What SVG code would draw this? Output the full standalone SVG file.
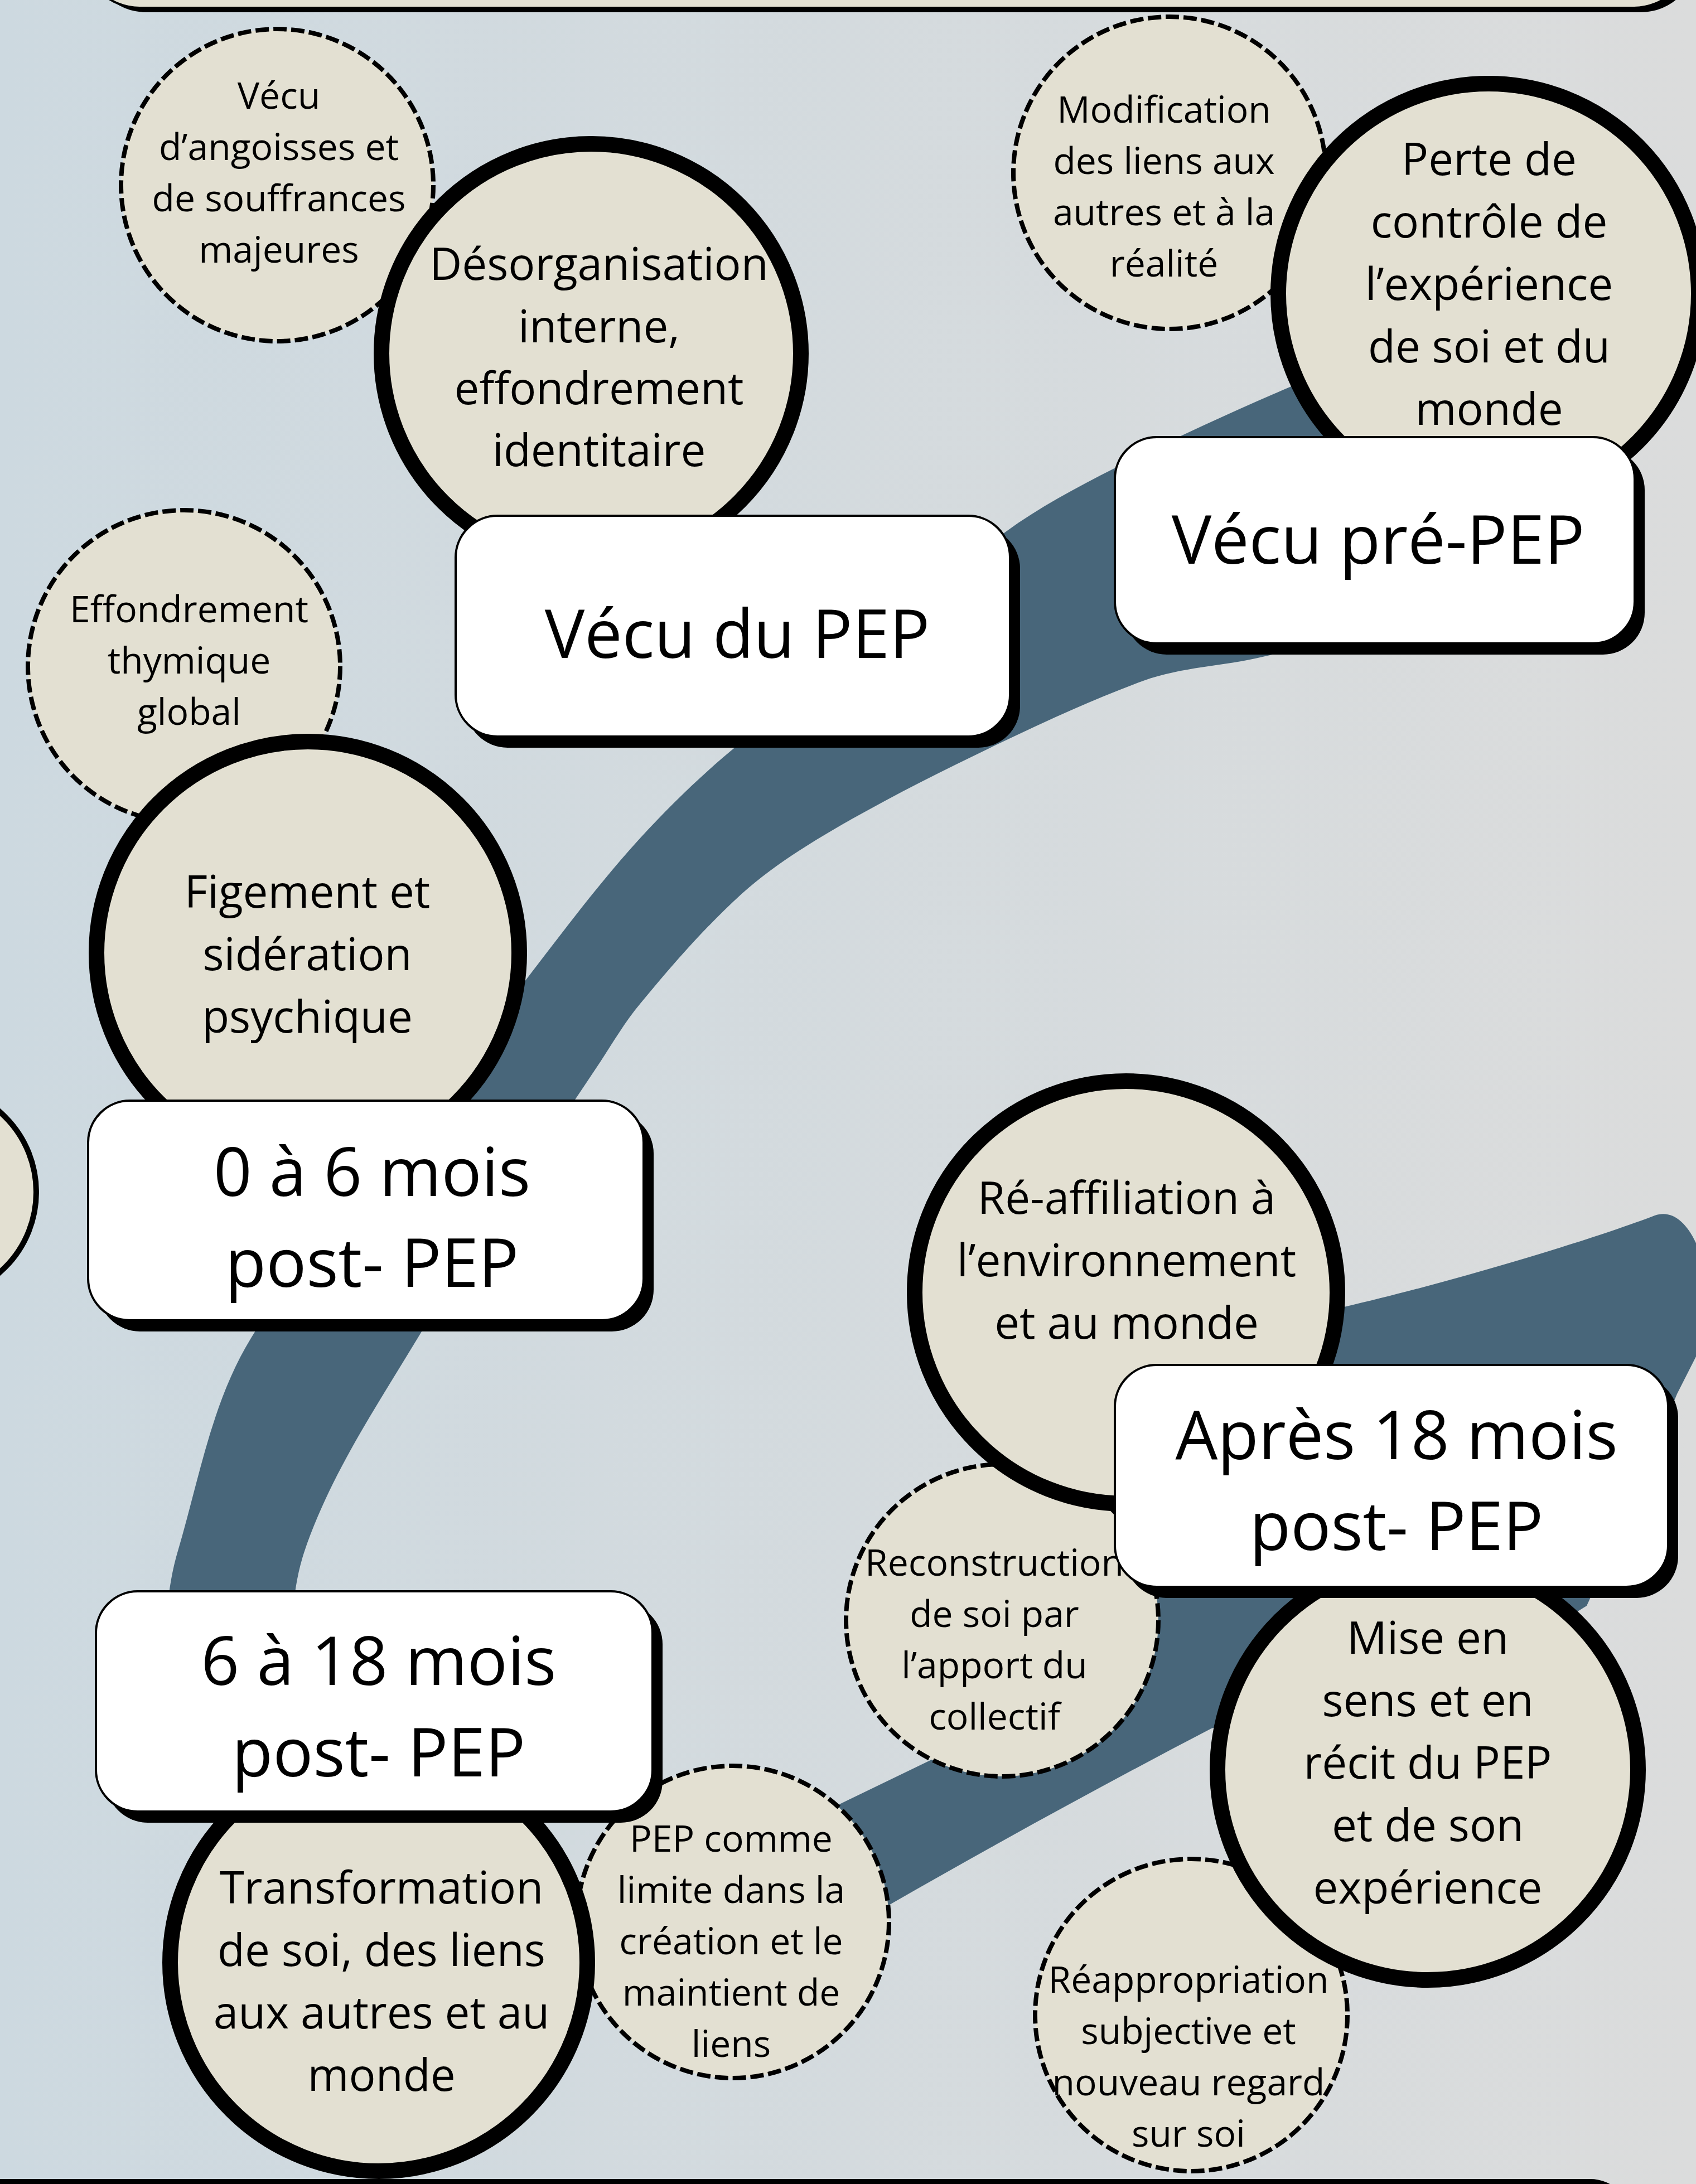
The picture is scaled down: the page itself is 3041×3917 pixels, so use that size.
<svg xmlns="http://www.w3.org/2000/svg" width="3041" height="3917" viewBox="0 0 3041 3917">
<defs>
<linearGradient id="bg" x1="0" y1="0" x2="1" y2="0">
<stop offset="0" stop-color="#cdd9e0"/>
<stop offset="1" stop-color="#dbdcdc"/>
</linearGradient>
<style>
.band{fill:#48667a}
.thick{fill:#e3e0d2;stroke:#000;stroke-width:28}
.dash{fill:#e3e0d2;stroke:#000;stroke-width:8;stroke-dasharray:24 8}
.box{fill:#fff;stroke:#000;stroke-width:4}
.shadow{fill:#000}
text{font-family:'Open Sans','Liberation Sans',sans-serif;fill:#000;text-anchor:middle}
.t66{font-size:66px}
.t80{font-size:80px}
.t120{font-size:120px}
</style>
</defs>
<rect x="0" y="0" width="3041" height="3917" fill="url(#bg)"/>

<g id="frame-top">
<rect x="162" y="-392" width="2880" height="414" rx="100" class="shadow"/>
<rect x="150" y="-400" width="2880" height="414" rx="100" fill="#e3e0d2" stroke="#000" stroke-width="4"/>
</g>
<g id="frame-bottom">
<rect x="-100" y="3908" width="3026" height="400" rx="75" class="shadow"/>
</g>

<g id="connectors">
<path class="band" d="M 2600 570 L 2313 694 C 2206 740, 2101 788, 1998 840 C 1931 874, 1863 910, 1803 954 C 1639 1075, 1480 1206, 1322 1337 C 1260 1388, 1202 1444, 1148 1503 C 1074 1584, 1008 1673, 941 1760 C 777 1973, 590 2171, 450 2400 C 379 2516, 357 2654, 318 2785 C 307 2822, 302 2861, 298 2900 L 290 3050 L 520 3050 L 525 2900 C 527 2861, 533 2822, 545 2785 C 591 2648, 672 2527, 747 2403 C 850 2232, 967 2070, 1076 1905 C 1099 1870, 1121 1832, 1148 1800 C 1205 1731, 1264 1663, 1330 1603 C 1380 1558, 1438 1521, 1496 1487 C 1590 1432, 1688 1383, 1786 1336 C 1872 1295, 1960 1254, 2050 1221 C 2119 1196, 2193 1195, 2264 1178 L 2600 1100 Z"/>
<path class="band" d="M 1350 3300 L 1505 3236 L 1662 3160 C 1780 3105, 1980 2950, 2090 2830 L 2250 2560 L 2380 2440 L 2410 2344 C 2600 2300, 2850 2225, 2967 2180 C 3010 2165, 3045 2215, 3060 2290 C 3072 2360, 3060 2410, 3041 2433 L 3007 2500 L 2900 2760 L 2845 2880 L 2780 2920 L 2172 3100 C 1980 3200, 1780 3310, 1597 3415 L 1450 3490 Z"/>
</g>

<g id="n-left-partial">
<circle cx="-126" cy="2138" r="191" fill="#e3e0d2" stroke="#000" stroke-width="10"/>
</g>

<g id="n-vecu-angoisses">
<circle cx="497" cy="332" r="280" class="dash"/>
<text class="t66"><tspan x="500" y="195">Vécu</tspan><tspan x="500" y="287">d’angoisses et</tspan><tspan x="500" y="379">de souffrances</tspan><tspan x="500" y="471">majeures</tspan></text>
</g>
<g id="n-modification">
<circle cx="2097" cy="310" r="280" class="dash"/>
<text class="t66"><tspan x="2087" y="220">Modification</tspan><tspan x="2087" y="312">des liens aux</tspan><tspan x="2087" y="404">autres et à la</tspan><tspan x="2087" y="496">réalité</tspan></text>
</g>
<g id="n-effondrement">
<circle cx="330" cy="1195" r="280" class="dash"/>
<text class="t66"><tspan x="339" y="1116">Effondrement</tspan><tspan x="339" y="1208">thymique</tspan><tspan x="339" y="1300">global</tspan></text>
</g>
<g id="n-pep-comme">
<circle cx="1314" cy="3447" r="280" class="dash"/>
<text class="t66"><tspan x="1311" y="3321">PEP comme</tspan><tspan x="1311" y="3413">limite dans la</tspan><tspan x="1311" y="3505">création et le</tspan><tspan x="1311" y="3597">maintient de</tspan><tspan x="1311" y="3689">liens</tspan></text>
</g>
<g id="n-reconstruction">
<circle cx="1797" cy="2906" r="280" class="dash"/>
<text class="t66"><tspan x="1783" y="2826">Reconstruction</tspan><tspan x="1783" y="2918">de soi par</tspan><tspan x="1783" y="3010">l’apport du</tspan><tspan x="1783" y="3102">collectif</tspan></text>
</g>
<g id="n-reappropriation">
<circle cx="2136" cy="3614" r="280" class="dash"/>
<text class="t66"><tspan x="2131" y="3574">Réappropriation</tspan><tspan x="2131" y="3666">subjective et</tspan><tspan x="2131" y="3758">nouveau regard</tspan><tspan x="2131" y="3850">sur soi</tspan></text>
</g>

<g id="n-desorganisation">
<circle cx="1060" cy="634" r="376" class="thick"/>
<text class="t80"><tspan x="1074" y="502">Désorganisation</tspan><tspan x="1074" y="614">interne,</tspan><tspan x="1074" y="725">effondrement</tspan><tspan x="1074" y="836">identitaire</tspan></text>
</g>
<g id="n-perte">
<circle cx="2669" cy="527" r="377" class="thick"/>
<text class="t80"><tspan x="2670" y="314">Perte de</tspan><tspan x="2670" y="426">contrôle de</tspan><tspan x="2670" y="538">l’expérience</tspan><tspan x="2670" y="650">de soi et du</tspan><tspan x="2670" y="762">monde</tspan></text>
</g>
<g id="n-figement">
<circle cx="552" cy="1709" r="379" class="thick"/>
<text class="t80"><tspan x="551" y="1628">Figement et</tspan><tspan x="551" y="1740">sidération</tspan><tspan x="551" y="1852">psychique</tspan></text>
</g>
<g id="n-reaffiliation">
<circle cx="2019" cy="2318" r="379" class="thick"/>
<text class="t80"><tspan x="2020" y="2177">Ré-affiliation à</tspan><tspan x="2020" y="2289">l’environnement</tspan><tspan x="2020" y="2401">et au monde</tspan></text>
</g>
<g id="n-mise-en-sens">
<circle cx="2560" cy="3174" r="377" class="thick"/>
<text class="t80"><tspan x="2560" y="2966">Mise en</tspan><tspan x="2560" y="3078">sens et en</tspan><tspan x="2560" y="3190">récit du PEP</tspan><tspan x="2560" y="3302">et de son</tspan><tspan x="2560" y="3414">expérience</tspan></text>
</g>
<g id="n-transformation">
<circle cx="679" cy="3520" r="374" class="thick"/>
<text class="t80"><tspan x="684" y="3414">Transformation</tspan><tspan x="684" y="3526">de soi, des liens</tspan><tspan x="684" y="3638">aux autres et au</tspan><tspan x="684" y="3750">monde</tspan></text>
</g>

<g id="b-vecu-pre">
<rect x="2017" y="804" width="932" height="370" rx="75" class="shadow"/>
<rect x="1999" y="784" width="932" height="370" rx="75" class="box"/>
<text class="t120" x="2471" y="1011">Vécu pré-PEP</text>
</g>
<g id="b-vecu-du">
<rect x="835" y="945" width="994" height="396" rx="75" class="shadow"/>
<rect x="817" y="925" width="994" height="396" rx="75" class="box"/>
<text class="t120" x="1322" y="1180">Vécu du PEP</text>
</g>
<g id="b-0-6">
<rect x="176" y="1994" width="996" height="394" rx="75" class="shadow"/>
<rect x="158" y="1974" width="996" height="394" rx="75" class="box"/>
<text class="t120"><tspan x="667" y="2145">0 à 6 mois</tspan><tspan x="667" y="2308">post- PEP</tspan></text>
</g>
<g id="b-6-18">
<rect x="190" y="2874" width="998" height="395" rx="75" class="shadow"/>
<rect x="172" y="2854" width="998" height="395" rx="75" class="box"/>
<text class="t120"><tspan x="679" y="3022">6 à 18 mois</tspan><tspan x="679" y="3186">post- PEP</tspan></text>
</g>
<g id="b-apres-18">
<rect x="2017" y="2468" width="992" height="398" rx="75" class="shadow"/>
<rect x="1999" y="2448" width="992" height="398" rx="75" class="box"/>
<text class="t120"><tspan x="2504" y="2617">Après 18 mois</tspan><tspan x="2504" y="2780">post- PEP</tspan></text>
</g>
</svg>
